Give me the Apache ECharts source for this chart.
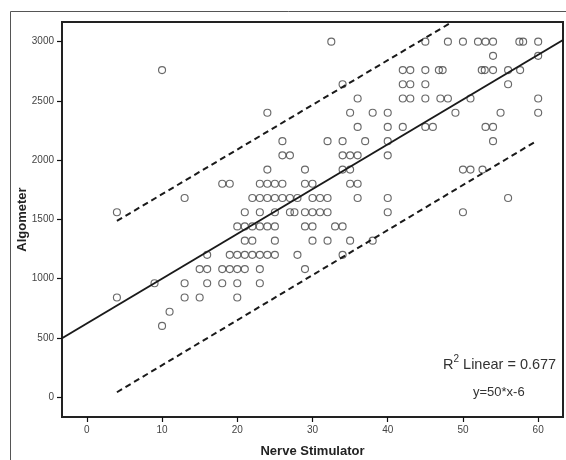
<!DOCTYPE html>
<html>
<head>
<meta charset="utf-8">
<script src="https://cdn.jsdelivr.net/npm/echarts@6/dist/echarts.min.js"></script>
<style>html,body{margin:0;padding:0;background:#fff;}#c{width:566px;height:460px;}</style>
</head>
<body>
<div id="c"></div>
<script>
// Scatter values, grouped by Algometer level
const rowLevels = [3000, 2880, 2760, 2640, 2520, 2400, 2280, 2160, 2040, 1920, 1800, 1680, 1560, 1440, 1320, 1200, 1080, 960, 840, 720, 600];
const rowStimulator = [
  [32.5, 45, 48, 50, 52, 53, 54, 57.5, 58, 60],
  [54, 60],
  [10, 42, 43, 45, 46.8, 47.3, 52.5, 52.9, 54, 56, 57.6],
  [34, 42, 43, 45, 56],
  [36, 42, 43, 45, 47, 48, 51, 60],
  [24, 35, 38, 40, 49, 55, 60],
  [36, 40, 42, 45, 46, 53, 54],
  [26, 32, 34, 37, 40, 54],
  [26, 27, 34, 35, 36, 40],
  [24, 29, 34, 35, 50, 51, 52.6],
  [18, 19, 23, 24, 25, 26, 29, 30, 35, 36],
  [13, 22, 23, 24, 25, 26, 27, 28, 30, 31, 32, 36, 40, 56],
  [4, 21, 23, 25, 27, 27.6, 29, 30, 31, 32, 40, 50],
  [20, 21, 22, 23, 24, 25, 29, 30, 33, 34],
  [21, 22, 25, 30, 32, 35, 38],
  [16, 19, 20, 21, 22, 23, 24, 25, 28, 34],
  [15, 16, 18, 19, 20, 21, 23, 29],
  [9, 13, 16, 18, 20, 23],
  [4, 13, 15, 20],
  [11],
  [10]
];
// Fit line and prediction bounds
const fitX = [-3.3, 63.3];
const fitY = [496, 3014];
const upperX = [4, 48.4];
const upperY = [1486, 3160];
const lowerX = [4, 59.8];
const lowerY = [40, 2162];
// Tick labels
const xTicks = [0, 10, 20, 30, 40, 50, 60];
const yTicks = [0, 500, 1000, 1500, 2000, 2500, 3000];
const xRange = [-3.3, 63.3];
const yRange = [-169, 3166];

const scatterData = [];
rowLevels.forEach((lv, i) => rowStimulator[i].forEach(x => scatterData.push([x, lv])));
const pair = (xs, ys) => xs.map((x, i) => [x, ys[i]]);

const FONT = '"Liberation Sans", Arial, sans-serif';
const chart = echarts.init(document.getElementById('c'), null, {renderer: 'canvas'});
chart.setOption({
  animation: false,
  backgroundColor: '#fff',
  grid: {left: 62, top: 22, right: 3, bottom: 43, show: true, borderColor: '#222', borderWidth: 2,
         containLabel: false, outerBoundsMode: 'none'},
  xAxis: {
    type: 'value', min: xRange[0], max: xRange[1],
    name: 'Nerve Stimulator', nameLocation: 'middle', nameGap: 28, nameMoveOverlap: false,
    nameTextStyle: {fontFamily: FONT, fontWeight: 'bold', fontSize: 13, color: '#222'},
    axisLine: {show: true, onZero: false, lineStyle: {color: '#222', width: 2}},
    axisTick: {show: true, inside: false, length: 5, lineStyle: {color: '#111', width: 1.2}, customValues: xTicks},
    axisLabel: {fontFamily: FONT, fontSize: 10, color: '#444', margin: 8, customValues: xTicks, formatter: v => String(v)},
    splitLine: {show: false}
  },
  yAxis: {
    type: 'value', min: yRange[0], max: yRange[1],
    name: 'Algometer', nameLocation: 'middle', nameGap: 33, nameMoveOverlap: false,
    nameTextStyle: {fontFamily: FONT, fontWeight: 'bold', fontSize: 13, color: '#222'},
    axisLine: {show: true, onZero: false, lineStyle: {color: '#222', width: 2}},
    axisTick: {show: true, inside: false, length: 5, lineStyle: {color: '#111', width: 1.2}, customValues: yTicks},
    axisLabel: {fontFamily: FONT, fontSize: 10, color: '#444', margin: 8, customValues: yTicks, formatter: v => String(v)},
    splitLine: {show: false}
  },
  series: [
    {type: 'scatter', data: scatterData, symbol: 'circle', symbolSize: 7,
     itemStyle: {color: 'rgba(0,0,0,0)', borderColor: '#444', borderWidth: 1.15}, z: 3},
    {type: 'line', data: pair(fitX, fitY), symbol: 'none', lineStyle: {color: '#1a1a1a', width: 2}, z: 4},
    {type: 'line', data: pair(upperX, upperY), symbol: 'none', lineStyle: {color: '#1a1a1a', width: 2, type: [6, 4]}, z: 4},
    {type: 'line', data: pair(lowerX, lowerY), symbol: 'none', lineStyle: {color: '#1a1a1a', width: 2, type: [6, 4]}, z: 4}
  ],
  graphic: [
    {type: 'rect', shape: {x: 10.5, y: 11.5, width: 580, height: 480}, style: {fill: 'none', stroke: '#555', lineWidth: 1}, silent: true, z: 0},
    {type: 'text', left: 443, top: 354, style: {
      text: '{r|R}{s|2}{r| Linear = 0.677}', fill: '#333',
      rich: {r: {fontFamily: FONT, fontSize: 14.5, fill: '#333', verticalAlign: 'bottom', lineHeight: 18},
             s: {fontFamily: FONT, fontSize: 10, fill: '#333', verticalAlign: 'top', lineHeight: 18}}
    }, z: 10},
    {type: 'text', left: 473, top: 386, style: {text: 'y=50*x-6', fontFamily: FONT, fontSize: 13, fill: '#333'}, z: 10}
  ]
});
</script>
</body>
</html>
